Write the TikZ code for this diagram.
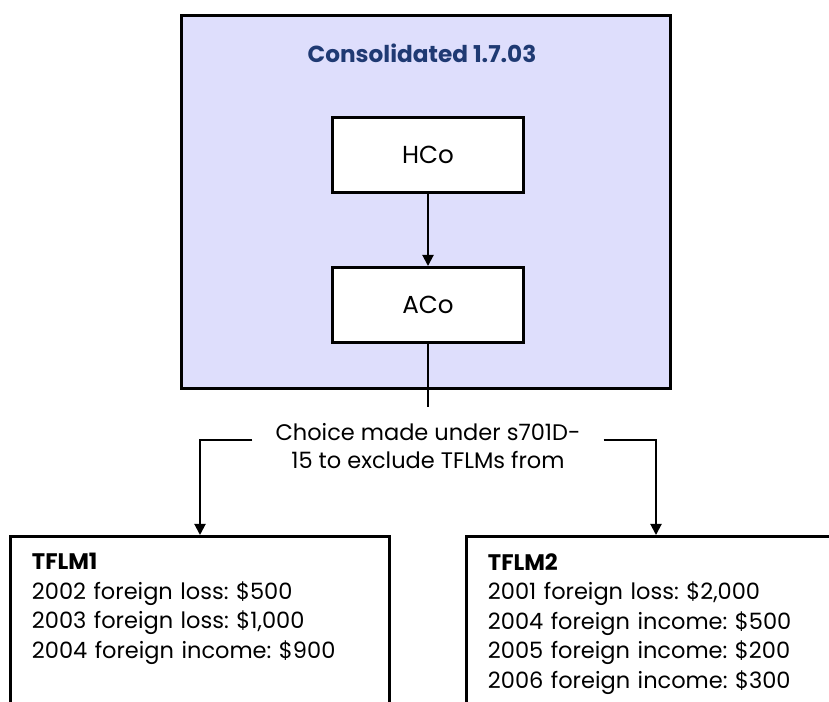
\documentclass[tikz,border=0pt]{standalone}
\usepackage{fontspec}
\setmainfont{Poppins}
\usetikzlibrary{arrows.meta}
\definecolor{grouplilac}{RGB}{222,222,252}
\definecolor{titleblue}{RGB}{31,58,115}
\frenchspacing

\begin{document}
\begin{tikzpicture}[x=0.025cm,y=-0.025cm]
\tikzstyle{groupbox}=[draw,line width=2.1pt,fill=grouplilac,minimum width=12.2cm,minimum height=9.3cm,inner sep=0pt]
\tikzstyle{company}=[draw,line width=2.1pt,fill=white,minimum width=4.775cm,minimum height=1.875cm,inner sep=0pt,font=\fontsize{17.5}{20}\selectfont]
\tikzstyle{tflm}=[draw,line width=2.1pt,fill=white,anchor=north,minimum width=9.45cm,text width=8.4cm,inner xsep=0.525cm,inner ysep=0.42cm,text depth=6cm,align=left,font=\fontsize{16}{21}\selectfont]
\tikzstyle{link}=[line width=1.4pt,-{Triangle[length=8pt,width=8pt]}]
\clip (0,0) rectangle (829,702);
\node[groupbox] (group) at (426,202) {};
\node[font=\fontsize{16.5}{18}\selectfont\bfseries,text=titleblue] (title) at (422,53) {Consolidated 1.7.03};
\node[company] (hco) at (428,155) {HCo};
\node[company] (aco) at (428,305) {ACo};
\node[align=center,inner xsep=0.575cm,inner ysep=0.4cm,font=\fontsize{16}{20}\selectfont] (choice) at (428,446) {Choice made under s701D-\\15 to exclude TFLMs from};
\node[tflm] (tflm1) at (200,535) {\textbf{TFLM1}\\2002 foreign loss: \$500\\2003 foreign loss: \$1,000\\2004 foreign income: \$900};
\node[tflm] (tflm2) at (656,535) {\textbf{TFLM2}\\2001 foreign loss: \$2,000\\2004 foreign income: \$500\\2005 foreign income: \$200\\2006 foreign income: \$300};
\draw[link] (hco) -- (aco);
\draw[line width=1.4pt] (aco) -- (choice);
\draw[link] ([yshift=0.15cm]choice.west) -| (tflm1.north);
\draw[link] ([yshift=0.15cm]choice.east) -| (tflm2.north);
\end{tikzpicture}
\end{document}
